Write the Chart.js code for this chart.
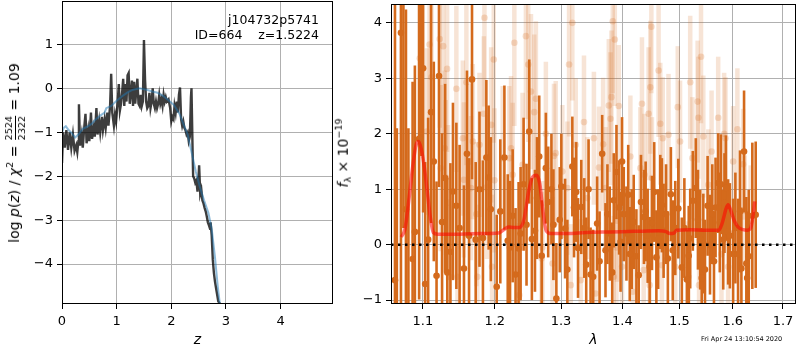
<!DOCTYPE html>
<html>
<head>
<meta charset="utf-8">
<script src="https://cdn.jsdelivr.net/npm/chart.js@4.4.1/dist/chart.umd.min.js"></script>
<style>
body { margin: 0; background: #fff; font-family: 'DejaVu Sans', sans-serif; }
#wrap { position: relative; width: 800px; height: 350px; overflow: hidden; }
canvas { position: absolute; top: 0; }
.vlab { position: absolute; white-space: nowrap; font-size: 14px; color: #000;
        transform: translate(-50%, -50%) rotate(-90deg); }
.frac { display: inline-flex; flex-direction: column; vertical-align: middle;
        font-size: 9.5px; line-height: 9.5px; text-align: center; margin: 0 1px; }
.frac span:first-child { border-bottom: 1px solid #000; padding-bottom: 1px; }
.frac span:last-child { padding-top: 1px; }
#note { position: absolute; left: 0; top: 12px; width: 319px; text-align: right;
        font-size: 12.5px; line-height: 15px; }
#stamp { position: absolute; left: 701px; top: 335px; font-size: 6.5px; }
</style>
</head>
<body>
<div id="wrap">
<canvas id="pz" width="340" height="350" style="left:0"></canvas>
<canvas id="spec" width="460" height="350" style="left:340px"></canvas>
<div class="vlab" style="left:15px; top:153px">log <i>p</i>(<i>z</i>) / <i>χ</i><sup style="font-size:9.5px">2</sup> = <span class="frac"><span>2524</span><span>2322</span></span> = 1.09</div>
<div class="vlab" style="left:343px; top:153px"><i>f</i><sub style="font-size:9.5px">λ</sub> × 10<sup style="font-size:9.5px">−19</sup></div>
<div id="note">j104732p5741<br>ID=664&nbsp;&nbsp;&nbsp;&nbsp;z=1.5224</div>
<div id="stamp">Fri Apr 24 13:10:54 2020</div>
</div>
<script>
// ---- p(z) panel ----
const zDark = [0.00,0.02,0.05,0.08,0.11,0.14,0.17,0.20,0.23,0.26,
  0.28,0.30,0.31,0.33,0.36,0.38,0.41,0.43,0.45,0.46,
  0.48,0.50,0.53,0.55,0.58,0.60,0.63,0.65,0.68,0.70,
  0.73,0.75,0.78,0.80,0.83,0.85,0.88,0.90,0.92,0.95,
  0.97,0.99,1.02,1.04,1.06,1.08,1.10,1.12,1.14,1.16,
  1.18,1.20,1.22,1.24,1.26,1.28,1.30,1.32,1.34,1.36,
  1.38,1.40,1.42,1.44,1.46,1.48,1.50,1.52,1.54,1.56,
  1.58,1.60,1.62,1.64,1.66,1.68,1.70,1.72,1.74,1.76,
  1.78,1.80,1.82,1.84,1.86,1.88,1.90,1.92,1.95,1.98,
  2.00,2.02,2.04,2.06,2.08,2.10,2.12,2.14,2.16,2.18,
  2.20,2.22,2.24,2.26,2.28,2.30,2.32,2.34,2.36,2.37,
  2.39,2.40,2.42,2.44,2.46,2.48,2.50,2.51,2.53,2.55,
  2.57,2.59,2.61,2.63,2.65,2.67,2.69,2.71,2.72,2.74,
  2.76,2.78,2.80,2.82,2.84,2.86,2.90,2.92];
const pDark = [-1.70,-1.00,-1.35,-0.95,-1.40,-1.00,-1.35,-1.05,-1.42,-1.30,
  -1.45,-1.20,-0.36,-1.30,-1.05,-1.35,-0.85,-0.58,-1.25,-1.15,
  -0.95,-1.20,-0.55,-1.15,-0.90,-1.10,-0.45,-1.05,-0.75,-1.00,
  -0.65,-0.95,-0.70,-0.90,-0.55,-0.85,-0.40,0.33,-0.55,-0.85,
  -0.60,-0.75,-0.30,0.10,-0.50,-0.35,-0.10,0.22,-0.40,0.10,
  -0.30,0.30,0.35,-0.35,-0.10,0.18,-0.40,0.15,-0.35,-0.05,
  0.22,-0.35,-0.40,-0.15,-0.40,-0.30,1.10,0.20,-0.30,-0.45,
  -0.40,-0.10,-0.45,-0.30,0.00,-0.35,-0.45,-0.30,-0.45,-0.35,
  -0.15,-0.35,-0.25,-0.40,-0.15,-0.30,-0.20,-0.30,-0.25,-0.45,
  -0.75,-0.65,-0.70,-0.40,-0.55,-0.30,-0.55,-0.15,0.02,-0.70,
  -0.85,-0.75,-0.90,-0.95,-1.05,-1.00,-1.20,-1.10,-0.20,0.00,
  -1.40,-2.00,-2.05,-2.15,-2.10,-2.35,-2.00,-1.75,-2.40,-2.30,
  -2.55,-2.62,-2.72,-2.80,-2.92,-3.05,-3.12,-3.20,-3.05,-3.35,
  -3.90,-4.20,-4.40,-4.55,-4.70,-4.85,-4.92,-4.95];

const zFit = [0.00,0.03,0.07,0.12,0.18,0.24,0.30,0.38,0.45,0.55,0.62,0.70,0.78,0.81,0.90,
  1.00,1.10,1.20,1.30,1.42,1.55,1.65,1.75,1.85,1.95,2.05,2.15,2.22,2.30,2.38,
  2.45,2.52,2.60,2.68,2.74,2.80,2.85,2.89];
const pFit = [-1.00,-0.90,-0.86,-0.95,-1.02,-1.12,-1.05,-0.92,-0.88,-0.80,-0.70,-0.62,-0.55,-0.45,-0.40,
  -0.28,-0.18,-0.09,-0.03,0.00,-0.03,-0.07,-0.10,-0.17,-0.27,-0.38,-0.58,-0.80,-1.05,-1.50,
  -1.90,-2.23,-2.55,-2.84,-3.20,-3.85,-4.50,-4.92];

const zRange = [0, 4.96];
const pRange = [-4.91, 1.99];

// ---- spectrum panel ----
// dark points: the ones with a visible dot first, then the bars whose dot is hidden/overlapped
const lamObs = [1.0636,1.0713,1.0778,1.0865,1.0895,1.0951,1.1004,1.1031,1.1071,1.1111,
  1.1147,1.1184,1.1218,1.1259,1.1373,1.1408,1.1455,1.1561,1.1603,1.1632,
  1.1674,1.1726,1.1829,1.1878,1.1911,1.1942,1.2028,1.2140,1.2189,1.2223,
  1.2262,1.2305,1.2350,1.2425,1.2469,1.2510,1.2597,1.2628,1.2662,1.2764,
  1.2800,1.2881,1.2927,1.3005,1.3064,1.3179,1.3206,1.3270,1.3322,1.3402,
  1.3473,1.3515,1.3580,1.3663,1.3718,1.3789,1.3856,1.3901,1.3945,1.3995,
  1.4024,1.4070,1.4126,1.4194,1.4240,1.4319,1.4371,1.4435,1.4511,1.4588,
  1.4657,1.4686,1.4716,1.4792,1.4846,1.4925,1.5044,1.5136,1.5197,1.5245,
  1.5300,1.5381,1.5440,1.5471,1.5565,1.5608,1.5670,1.5720,1.5772,1.5816,
  1.5867,1.5910,1.5943,1.6006,1.6102,1.6167,1.6219,1.6264,1.6311,1.6382,1.6449,
  1.2550,1.2700,1.2850,1.2980,1.3100,1.3240,1.3370,1.3440,1.3620,1.3750,
  1.3830,1.3970,1.4100,1.4160,1.4280,1.4400,1.4470,1.4550,1.4620,1.4760,
  1.4880,1.4980,1.5090,1.5170,1.5340,1.5410,1.5520,1.5640,1.5750,1.5840,
  1.6050,1.6140,1.6280,1.1300,1.1330,1.1500,1.1780,1.2080,1.2380,
  1.0660,1.0745,1.0810,1.0980];
const fluxObs = [-0.64,3.82,0.64,-0.26,0.23,1.91,3.18,-0.71,0.09,2.39,
  1.50,-0.56,3.04,0.41,-0.13,0.96,0.70,-0.43,1.64,0.16,
  2.98,0.09,0.12,1.57,1.21,0.64,-0.76,1.57,0.07,-0.05,
  0.52,-0.54,-0.07,1.09,0.36,2.04,0.25,0.84,1.59,1.38,
  0.77,0.36,-0.97,1.05,0.29,1.41,0.67,-0.06,0.68,-0.36,
  -0.54,-0.58,0.38,1.64,-0.10,0.20,0.80,1.31,0.67,1.50,
  0.55,0.20,-0.17,0.41,-0.21,0.77,0.50,0.16,0.39,-0.23,
  0.77,0.71,0.25,-0.25,0.91,0.30,-0.41,-0.63,0.11,0.79,
  1.02,0.09,0.02,-0.45,0.00,0.55,0.67,1.11,1.09,0.09,
  1.02,0.23,0.16,-0.17,-0.17,-0.43,1.68,-0.34,-0.21,0.52,0.54,
  0.10,-0.20,1.00,0.45,-0.45,0.95,0.30,1.00,-0.30,0.55,
  -0.50,0.05,0.90,0.10,-0.55,0.60,-0.40,0.95,0.10,0.55,
  -0.10,0.65,0.30,-0.20,0.45,-0.60,0.70,-0.30,0.40,0.75,
  0.30,0.60,-0.60,1.20,-0.50,0.30,1.00,0.60,0.20,
  -1.50,4.80,-1.30,4.60];
const errObs = [5.0,4.9,3.6,3.2,3.0,2.9,2.6,2.2,2.2,2.0,
  1.8,1.7,2.0,1.6,1.6,1.6,1.5,1.5,1.5,1.4,
  1.8,1.4,1.4,1.4,1.3,1.3,1.3,1.3,1.2,1.2,
  1.2,1.2,1.2,1.2,1.1,1.3,1.1,1.1,1.1,1.0,
  1.0,1.0,1.0,0.95,0.9,0.9,0.9,0.9,0.85,0.85,
  0.85,0.85,0.85,0.7,0.85,0.85,0.85,0.85,0.85,0.8,
  0.85,0.85,0.85,0.85,0.85,0.85,0.85,0.85,0.85,0.85,
  0.85,0.85,0.85,0.85,0.85,0.85,0.9,0.9,0.9,0.9,
  0.9,0.9,0.9,0.9,0.9,0.9,0.9,0.9,0.9,0.9,
  0.95,0.95,0.95,1.0,1.0,1.1,1.1,1.2,1.2,1.32,1.32,
  1.1,1.0,1.0,0.95,0.9,0.9,0.9,0.9,0.9,0.9,
  0.9,0.9,0.9,0.9,0.9,0.9,0.9,0.9,0.9,0.9,
  0.9,0.9,0.9,0.9,0.9,0.9,0.9,0.9,0.9,0.9,
  1.0,1.1,1.2,1.7,1.7,1.5,1.4,1.3,1.2,
  3.6,4.5,3.4,3.0];

// lighter, second set of points
const lamAlt = [1.0960,1.1053,1.1090,1.1116,1.1227,1.1240,1.1274,1.1296,1.1310,1.1327,
  1.1341,1.1360,1.1455,1.1470,1.1545,1.1560,1.1595,1.1640,1.1660,1.1685,
  1.1736,1.1750,1.1780,1.1842,1.1851,1.1887,1.1947,1.1960,1.1985,1.1995,
  1.2115,1.2213,1.2238,1.2262,1.2287,1.2360,1.2410,1.2460,1.2495,1.2536,
  1.2586,1.2611,1.2697,1.2712,1.2764,1.2867,1.2890,1.2917,1.3021,1.3100,
  1.3127,1.3154,1.3179,1.3233,1.3313,1.3366,1.3420,1.3527,1.3554,1.3610,
  1.3679,1.3720,1.3773,1.3801,1.3817,1.3839,1.3856,1.3873,1.3900,1.3910,
  1.3940,1.3995,1.4137,1.4177,1.4308,1.4336,1.4366,1.4380,1.4452,1.4470,
  1.4482,1.4500,1.4510,1.4627,1.4657,1.4686,1.4701,1.4803,1.4925,1.4970,
  1.5012,1.5164,1.5197,1.5237,1.5334,1.5347,1.5360,1.5397,1.5440,1.5533,
  1.5595,1.5720,1.5782,1.5834,1.5859,1.5910,1.6006,1.6089,1.6200,1.6232,1.6349];
const fluxAlt = [3.36,2.04,3.61,3.02,3.71,1.38,3.58,1.74,1.21,3.17,
  0.76,-0.58,2.81,-0.58,1.92,1.17,2.93,1.50,1.02,1.86,
  0.55,-0.58,1.80,2.36,4.09,1.04,2.16,-0.40,3.34,1.16,
  1.56,1.56,1.74,1.26,3.64,-0.91,1.44,3.76,3.25,2.76,
  2.39,2.63,-0.25,-0.05,2.00,-0.34,1.60,1.65,1.32,1.02,
  3.25,-0.73,4.00,1.80,-0.64,2.21,0.84,1.92,-0.88,1.39,
  1.81,1.02,2.51,2.27,2.66,4.03,-0.58,3.70,-0.05,0.43,
  2.50,-0.40,1.59,-0.85,1.38,2.54,-0.46,1.26,2.36,-0.73,
  2.84,3.93,1.20,3.14,2.18,-0.37,1.92,1.98,-0.40,2.48,
  1.86,-0.58,2.93,1.56,2.58,2.29,-0.73,3.39,1.95,1.08,
  1.68,2.29,-0.17,2.00,1.92,-0.40,1.50,2.08,1.45,0.61,0.43];
const errAlt = [1.6,1.5,1.6,1.5,1.6,1.5,1.6,1.4,1.4,1.5,
  1.4,1.3,1.5,1.3,1.4,1.4,1.5,1.4,1.3,1.4,
  1.3,1.3,1.3,1.4,1.6,1.3,1.4,1.3,1.5,1.3,
  1.3,1.3,1.3,1.3,1.5,1.3,1.3,1.5,1.4,1.4,
  1.4,1.4,1.2,1.2,1.3,1.2,1.3,1.3,1.2,1.2,
  1.3,1.1,1.4,1.2,1.1,1.2,1.1,1.2,1.1,1.1,
  1.2,1.1,1.2,1.2,1.2,1.3,1.1,1.2,1.1,1.1,
  1.1,1.1,1.1,1.1,1.1,1.2,1.1,1.1,1.2,1.1,
  1.2,1.2,1.1,1.2,1.1,1.0,1.1,1.1,1.0,1.1,
  1.1,1.0,1.2,1.1,1.1,1.1,1.0,1.2,1.1,1.0,
  1.1,1.1,1.0,1.1,1.1,1.0,1.0,1.1,1.0,1.0,1.0];

const lamModel = [1.0718,1.0765,1.0820,1.0870,1.0915,1.0945,1.0980,1.1020,1.1060,1.1100,
  1.1140,1.1200,1.1500,1.1800,1.2050,1.2130,1.2200,1.2280,1.2360,1.2430,
  1.2500,1.2560,1.2620,1.2670,1.2720,1.2770,1.2850,1.3100,1.3400,1.3800,
  1.4200,1.4630,1.4750,1.4830,1.4900,1.4950,1.5200,1.5500,1.5730,1.5800,
  1.5870,1.5910,1.5960,1.6020,1.6100,1.6200,1.6280,1.6350,1.6400,1.6430];
const fluxModel = [0.14,0.28,0.85,1.45,1.82,1.86,1.72,1.40,0.95,0.50,
  0.22,0.19,0.19,0.20,0.21,0.27,0.32,0.31,0.31,0.45,
  0.95,1.22,1.25,1.10,0.60,0.25,0.20,0.20,0.22,0.23,
  0.24,0.25,0.24,0.20,0.21,0.26,0.27,0.26,0.26,0.40,
  0.65,0.72,0.62,0.45,0.32,0.27,0.26,0.30,0.55,0.78];

const lamTicks = [1.1, 1.2, 1.3, 1.4, 1.5, 1.6, 1.7];
const lamRange = [1.0585, 1.727];
const fluxRange = [-1.07, 4.34];

Chart.defaults.font.family = "'DejaVu Sans', sans-serif";
Chart.defaults.font.size = 13;
Chart.defaults.color = '#000';

const minus = v => (v < 0 ? '\u2212' + Math.abs(v) : '' + v);

// box around the plot area, like the matplotlib spines
const frame = {
  id: 'frame',
  afterDraw(chart) {
    const { ctx, chartArea: a } = chart;
    ctx.save();
    ctx.strokeStyle = '#000';
    ctx.lineWidth = 1;
    ctx.strokeRect(a.left + 0.5, a.top + 0.5, a.width - 1, a.height - 1);
    ctx.restore();
  }
};

const gridOpts = { color: '#b0b0b0', lineWidth: 1, tickColor: '#000', tickLength: 5, offset: false };

function yFit(w) {
  return s => { s.width = w; s.paddingTop = 0; s.paddingBottom = 0; };
}
function xFit(h) {
  return s => { s.height = h; s.paddingLeft = 0; s.paddingRight = 0; };
}

new Chart(document.getElementById('pz'), {
  type: 'scatter',
  data: {
    datasets: [
      {
        data: zFit.map((z, i) => ({ x: z, y: pFit[i] })),
        showLine: true, pointRadius: 0, borderWidth: 2,
        borderColor: 'rgba(31,119,180,0.5)', clip: 0
      },
      {
        data: zDark.map((z, i) => ({ x: z, y: pDark[i] })),
        showLine: true, pointRadius: 0, borderWidth: 2.4,
        borderColor: 'rgba(0,0,0,0.76)', clip: 0
      }
    ]
  },
  options: {
    responsive: false, animation: false, devicePixelRatio: 1, events: [],
    layout: { padding: { top: 1, right: 7, left: 0, bottom: 0 } },
    plugins: { legend: { display: false }, tooltip: { enabled: false } },
    scales: {
      x: {
        type: 'linear', min: zRange[0], max: zRange[1],
        grid: gridOpts, border: { display: false },
        ticks: { stepSize: 1, includeBounds: false, padding: 5, maxRotation: 0, callback: minus },
        title: { display: true, text: 'z', font: { size: 14, style: 'italic' }, padding: { top: 0, bottom: 1 } },
        afterFit: xFit(46)
      },
      y: {
        type: 'linear', min: pRange[0], max: pRange[1],
        grid: gridOpts, border: { display: false },
        ticks: { stepSize: 1, includeBounds: false, padding: 4, callback: minus },
        afterFit: yFit(62)
      }
    }
  },
  plugins: [frame]
});

const dark = 'rgb(212,106,28)';

new Chart(document.getElementById('spec'), {
  type: 'scatter',
  data: {
    datasets: [
      {
        type: 'line',
        data: lamRange.map(l => ({ x: l, y: 0 })),
        borderColor: '#000', borderWidth: 2.5, borderDash: [2.5, 4.5],
        pointRadius: 0, clip: 0
      },
      {
        type: 'line',
        data: lamModel.map((l, i) => ({ x: l, y: fluxModel[i] })),
        borderColor: 'rgba(255,0,0,0.55)', borderWidth: 3.5, pointRadius: 0,
        cubicInterpolationMode: 'monotone', clip: 0
      },
      {
        data: lamObs.map((l, i) => ({ x: l, y: fluxObs[i] })),
        pointRadius: 3.3, backgroundColor: dark, borderWidth: 0, clip: 0
      },
      {
        type: 'bar',
        data: lamObs.map((l, i) => ({ x: l, y: [fluxObs[i] - errObs[i], fluxObs[i] + errObs[i]] })),
        backgroundColor: dark, barThickness: 2.6, inflateAmount: 0, grouped: false, borderWidth: 0, clip: 0
      },
      {
        data: lamAlt.map((l, i) => ({ x: l, y: fluxAlt[i] })),
        pointRadius: 3.3, backgroundColor: 'rgba(212,106,28,0.22)', borderWidth: 0, clip: 0
      },
      {
        type: 'bar',
        data: lamAlt.map((l, i) => ({ x: l, y: [fluxAlt[i] - errAlt[i], fluxAlt[i] + errAlt[i]] })),
        backgroundColor: 'rgba(212,106,28,0.18)', barThickness: 4.5, inflateAmount: 0, grouped: false, borderWidth: 0, clip: 0
      }
    ]
  },
  options: {
    responsive: false, animation: false, devicePixelRatio: 1, events: [],
    layout: { padding: { top: 1, right: 2, left: 0, bottom: 0 } },
    plugins: { legend: { display: false }, tooltip: { enabled: false } },
    scales: {
      x: {
        type: 'logarithmic', min: lamRange[0], max: lamRange[1], offset: false,
        grid: gridOpts, border: { display: false },
        afterBuildTicks: s => { s.ticks = lamTicks.map(v => ({ value: v })); },
        ticks: { padding: 5, autoSkip: false, maxRotation: 0, callback: v => Number(v).toFixed(1) },
        title: { display: true, text: 'λ', font: { size: 14, style: 'italic' }, padding: { top: 0, bottom: 1 } },
        afterFit: xFit(46)
      },
      y: {
        type: 'linear', min: fluxRange[0], max: fluxRange[1],
        grid: gridOpts, border: { display: false },
        ticks: { stepSize: 1, includeBounds: false, padding: 4, callback: minus },
        afterFit: yFit(51)
      }
    }
  },
  plugins: [frame]
});
</script>
</body>
</html>
